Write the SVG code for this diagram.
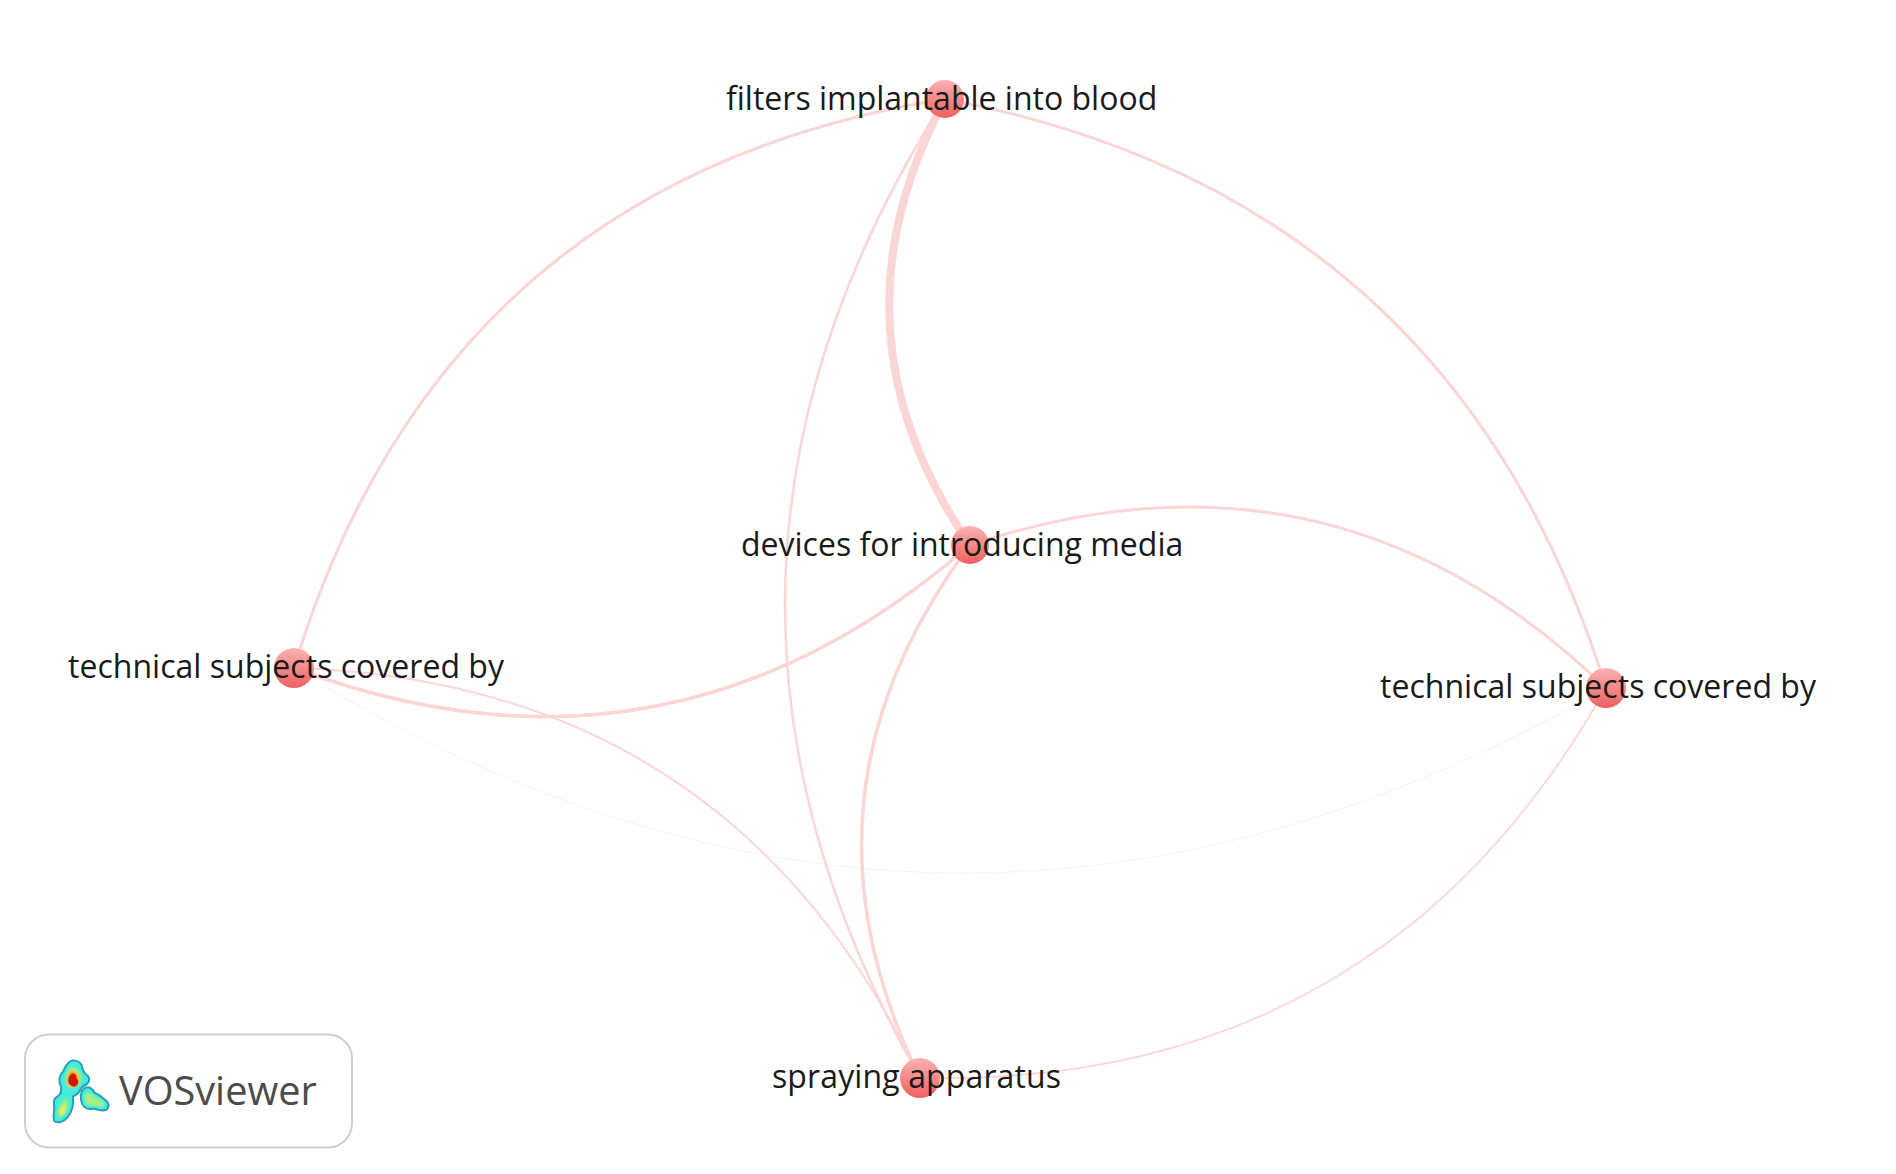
<svg xmlns="http://www.w3.org/2000/svg" width="1896" height="1174" viewBox="0 0 1896 1174">
<style>
.e{fill:none;stroke:#fcd5d5}
.n{fill:url(#ng)}
.t{font-family:"Open Sans",sans-serif;font-size:32px;fill:#1a1a1a}
</style>
<defs>
<linearGradient id="ng" x1="0" y1="0" x2="0" y2="1"><stop offset="0" stop-color="#fbb2b2"/><stop offset="1" stop-color="#f06060"/></linearGradient>
<filter id="soft" x="-10%" y="-10%" width="120%" height="120%"><feGaussianBlur stdDeviation="3"/></filter>
</defs>
<rect width="1896" height="1174" fill="#fff"/>
<g id="connectors">
<path class="e" stroke-width="3" d="M294 668Q442 180 945 99"/>
<path class="e" stroke-width="3" d="M945 99Q1453 195 1606 688"/>
<path class="e" stroke-width="8" d="M945 99Q822 330 970 545"/>
<path class="e" stroke-width="2.500" d="M945 99Q638 581 920 1078"/>
<path class="e" stroke-width="3" d="M970 545Q1332 424 1606 688"/>
<path class="e" stroke-width="3.500" d="M294 668Q668 808 970 545"/>
<path class="e" stroke-width="3.500" d="M970 545Q782 796 920 1078"/>
<path class="e" stroke-width="2" d="M294 668Q732 682 920 1078"/>
<path class="e" stroke-width="1" stroke-opacity=".35" d="M294 668Q944 1068 1606 688"/>
<path class="e" stroke-width="1.800" d="M1606 688Q1380 1088 920 1078"/>
</g>
<g id="node-filters"><circle class="n" cx="945" cy="99" r="19"/><text class="t" x="726" y="110">filters implantable into blood</text></g>
<g id="node-devices"><circle class="n" cx="970" cy="545" r="19"/><text class="t" x="741" y="556">devices for introducing media</text></g>
<g id="node-technical-left"><circle class="n" cx="294" cy="668" r="20"/><text class="t" x="68" y="678" textLength="436">technical subjects covered by</text></g>
<g id="node-technical-right"><circle class="n" cx="1606" cy="688" r="20"/><text class="t" x="1380" y="698" textLength="436">technical subjects covered by</text></g>
<g id="node-spraying"><circle class="n" cx="920" cy="1078" r="20"/><text class="t" x="772" y="1088" textLength="289">spraying apparatus</text></g>
<g id="logo">
<rect x="25" y="1034.500" width="327" height="113" rx="24" fill="#fff" stroke="#cfcfcf" stroke-width="2"/>
<g transform="translate(45 1055) scale(.3333)">
<path fill="#42ece0" stroke="#2a9fb5" stroke-width="6" d="M80 17C92 15 105 20 110 30C112 40 113 50 122 57C135 65 136 78 126 87C116 92 108 96 106 105C100 118 92 120 84 124C86 145 82 170 68 186C58 198 42 206 30 200C22 192 26 178 28 160C26 145 24 130 38 124C47 120 50 105 48 95C40 78 42 60 54 50C60 36 68 20 80 17Z"/>
<path fill="#42ece0" stroke="#2a9fb5" stroke-width="6" d="M122 98C134 94 144 103 148 113C160 116 170 126 182 136C194 146 194 162 178 166C165 169 150 158 138 162C122 164 110 152 108 135C106 118 108 104 122 98Z"/>
<g filter="url(#soft)">
<path fill="#8cf090" d="M78 35C95 32 112 52 112 70C108 92 85 105 72 100C55 90 55 50 78 35Z"/>
<path fill="#8cf090" d="M60 128C74 135 74 155 64 172C54 188 38 192 36 182C38 165 42 140 60 128Z"/>
<path fill="#f0ec50" d="M58 148C66 156 62 172 52 180C44 184 42 172 46 164C49 158 52 152 58 148Z"/>
<path fill="#a8f080" d="M125 112C140 115 150 128 165 135C180 142 182 152 172 155C155 158 145 148 130 152C118 148 115 120 125 112Z"/>
<path fill="#f2e040" d="M78 45C92 42 104 60 104 74C102 88 85 98 74 94C62 86 64 55 78 45Z"/>
<path fill="#f07a1c" d="M80 50C92 48 100 62 100 72C104 82 96 94 86 96C74 94 66 84 67 74C67 64 72 54 80 50Z"/>
</g>
<path fill="#cf1a06" d="M81 57C90 54 95 62 94 70C103 78 101 90 90 95C79 95 71 87 70 78C70 68 74 60 81 57Z"/>
</g>
<text x="119" y="1105" font-family="Open Sans,sans-serif" font-size="39.700" fill="#4c4c4c">VOSviewer</text>
</g>
</svg>
